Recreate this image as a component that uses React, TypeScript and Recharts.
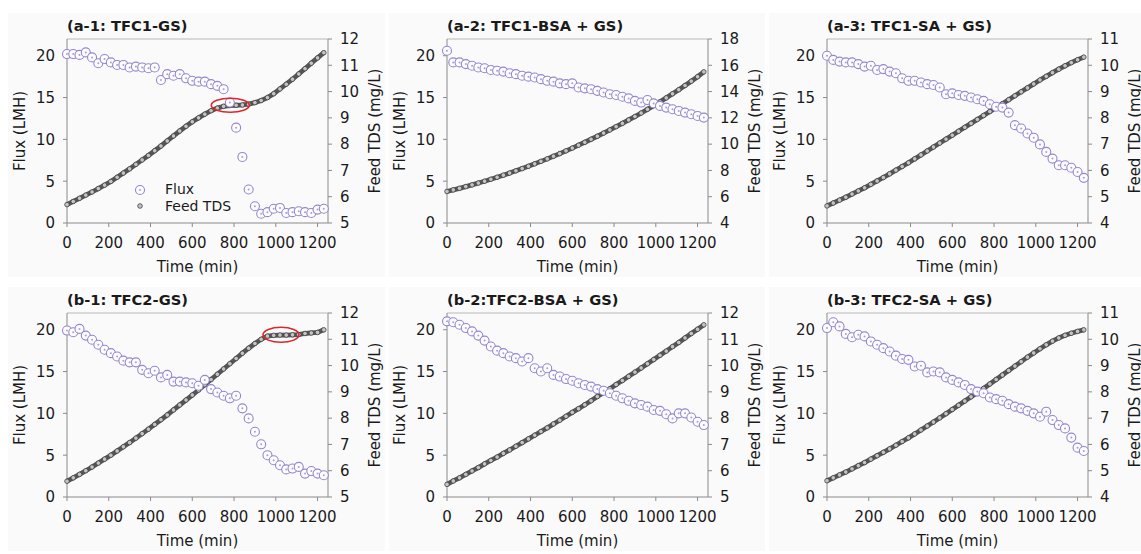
import React from 'react'
import {
  ComposedChart,
  Scatter,
  XAxis,
  YAxis,
  ReferenceLine,
  ReferenceDot,
} from 'recharts'

const times = [0, 30, 60, 90, 120, 150, 180, 210, 240, 270, 300, 330, 360, 390, 420, 450, 480, 510, 540, 570, 600, 630, 660, 690, 720, 750, 780, 810, 840, 870, 900, 930, 960, 990, 1020, 1050, 1080, 1110, 1140, 1170, 1200, 1230]

const timeTicks = [0, 200, 400, 600, 800, 1000, 1200]
const fluxTicks = [0, 5, 10, 15, 20]

// flux (LMH)
const fluxA1 = [20.2, 20.2, 20.1, 20.4, 19.8, 19.1, 19.6, 19.2, 18.9, 18.9, 18.6, 18.7, 18.6, 18.5, 18.6, 17.1, 17.8, 17.6, 17.8, 17.3, 17.0, 16.9, 16.9, 16.6, 16.4, 16.0, 14.4, 11.4, 7.9, 4.0, 2.0, 1.1, 1.3, 1.7, 1.8, 1.2, 1.3, 1.4, 1.3, 1.2, 1.6, 1.7]
const fluxA2 = [20.6, 19.2, 19.2, 19.0, 18.8, 18.6, 18.5, 18.3, 18.2, 18.1, 17.9, 17.8, 17.6, 17.5, 17.4, 17.2, 17.0, 16.9, 16.7, 16.6, 16.7, 16.2, 16.1, 16.0, 15.8, 15.6, 15.4, 15.3, 15.1, 14.9, 14.6, 14.4, 14.7, 14.3, 14.0, 13.8, 13.6, 13.4, 13.2, 13.0, 12.8, 12.6]
const fluxA3 = [20.0, 19.5, 19.3, 19.2, 19.2, 19.0, 18.7, 18.8, 18.3, 18.4, 18.1, 17.9, 17.3, 17.0, 17.0, 16.8, 16.6, 16.5, 16.2, 15.4, 15.5, 15.3, 15.2, 15.0, 14.8, 14.6, 14.2, 13.9, 13.8, 13.2, 11.7, 11.3, 10.7, 10.2, 9.4, 8.5, 7.7, 6.9, 6.9, 6.6, 6.1, 5.4]
const fluxB1 = [19.9, 19.7, 20.1, 19.3, 18.8, 18.2, 17.6, 17.2, 16.8, 16.3, 16.1, 16.1, 15.2, 14.8, 15.1, 14.3, 14.6, 13.8, 13.8, 13.7, 13.6, 13.3, 14.0, 12.9, 12.5, 12.1, 11.8, 12.1, 10.6, 9.4, 7.8, 6.3, 5.0, 4.4, 3.8, 3.3, 3.4, 3.6, 2.8, 3.1, 2.8, 2.6]
const fluxB2 = [21.0, 20.9, 20.6, 20.2, 19.8, 19.3, 18.7, 18.0, 17.5, 17.2, 16.8, 16.6, 16.2, 16.6, 15.4, 15.0, 15.4, 14.6, 14.4, 14.1, 13.9, 13.6, 13.4, 13.2, 12.9, 12.7, 12.4, 12.1, 11.8, 11.5, 11.2, 11.0, 10.8, 10.4, 10.3, 9.9, 9.4, 10.0, 10.0, 9.5, 9.0, 8.6]
const fluxB3 = [20.2, 20.9, 20.4, 19.5, 19.1, 19.4, 19.2, 18.6, 18.2, 17.8, 17.4, 16.9, 16.5, 16.4, 15.6, 15.7, 14.9, 15.0, 14.9, 14.3, 14.0, 13.7, 13.4, 12.9, 12.6, 12.4, 11.9, 11.7, 11.5, 11.1, 10.8, 10.6, 10.3, 10.0, 9.6, 10.2, 9.2, 8.6, 8.2, 7.1, 5.9, 5.5]

// feed TDS (mg/L)
const tdsA1 = [5.70, 5.82, 5.94, 6.06, 6.18, 6.31, 6.44, 6.58, 6.74, 6.90, 7.06, 7.23, 7.40, 7.57, 7.75, 7.93, 8.12, 8.31, 8.50, 8.68, 8.85, 9.00, 9.14, 9.27, 9.37, 9.44, 9.47, 9.48, 9.49, 9.52, 9.58, 9.66, 9.77, 9.92, 10.10, 10.28, 10.47, 10.67, 10.87, 11.08, 11.28, 11.48]
const tdsA2 = [6.40, 6.52, 6.64, 6.77, 6.90, 7.04, 7.18, 7.33, 7.48, 7.64, 7.80, 7.97, 8.14, 8.32, 8.50, 8.69, 8.88, 9.08, 9.28, 9.49, 9.70, 9.92, 10.14, 10.37, 10.60, 10.84, 11.08, 11.33, 11.58, 11.84, 12.10, 12.37, 12.65, 12.93, 13.22, 13.52, 13.83, 14.14, 14.46, 14.79, 15.13, 15.50]
const tdsA3 = [4.65, 4.76, 4.87, 4.98, 5.10, 5.22, 5.34, 5.47, 5.60, 5.73, 5.87, 6.01, 6.15, 6.29, 6.44, 6.59, 6.74, 6.89, 7.04, 7.19, 7.34, 7.49, 7.64, 7.79, 7.94, 8.09, 8.24, 8.39, 8.54, 8.69, 8.84, 8.99, 9.14, 9.29, 9.44, 9.58, 9.72, 9.85, 9.98, 10.10, 10.21, 10.31]
const tdsB1 = [5.60, 5.73, 5.86, 6.00, 6.14, 6.29, 6.44, 6.59, 6.75, 6.91, 7.07, 7.24, 7.41, 7.58, 7.76, 7.94, 8.12, 8.31, 8.50, 8.69, 8.88, 9.07, 9.27, 9.47, 9.67, 9.87, 10.07, 10.27, 10.47, 10.66, 10.84, 11.00, 11.12, 11.15, 11.16, 11.16, 11.17, 11.18, 11.22, 11.24, 11.26, 11.36]
const tdsB2 = [5.48, 5.61, 5.73, 5.86, 5.99, 6.12, 6.26, 6.39, 6.52, 6.66, 6.79, 6.93, 7.07, 7.21, 7.35, 7.49, 7.63, 7.78, 7.92, 8.07, 8.22, 8.36, 8.51, 8.66, 8.82, 8.97, 9.12, 9.28, 9.43, 9.59, 9.75, 9.91, 10.07, 10.23, 10.39, 10.55, 10.72, 10.88, 11.05, 11.22, 11.38, 11.55]
const tdsB3 = [4.62, 4.73, 4.84, 4.95, 5.07, 5.19, 5.31, 5.44, 5.57, 5.70, 5.83, 5.97, 6.11, 6.25, 6.40, 6.55, 6.70, 6.85, 7.01, 7.17, 7.33, 7.49, 7.65, 7.81, 7.97, 8.13, 8.30, 8.47, 8.64, 8.81, 8.98, 9.15, 9.32, 9.48, 9.64, 9.79, 9.93, 10.05, 10.15, 10.23, 10.30, 10.36]

const tdsTicks5to12 = [5, 6, 7, 8, 9, 10, 11, 12]
const tdsTicks4to18 = [4, 6, 8, 10, 12, 14, 16, 18]
const tdsTicks4to11 = [4, 5, 6, 7, 8, 9, 10, 11]

const FONT = '"DejaVu Sans", Arial, sans-serif'
const TEXT = '#1a1a1a'
const AXIS = '#8a8a8a'
const PURPLE = '#9487cf'

type Mark = { t: number; tds: number; rx: number; ry: number }

type PanelDef = {
  title: string
  flux: number[]
  tds: number[]
  tdsTicks: number[]
  mark?: Mark
  legend?: boolean
}

const panels: PanelDef[] = [
  { title: '(a-1: TFC1-GS)', flux: fluxA1, tds: tdsA1, tdsTicks: tdsTicks5to12, mark: { t: 782, tds: 9.48, rx: 19, ry: 7 }, legend: true },
  { title: '(a-2: TFC1-BSA + GS)', flux: fluxA2, tds: tdsA2, tdsTicks: tdsTicks4to18 },
  { title: '(a-3: TFC1-SA + GS)', flux: fluxA3, tds: tdsA3, tdsTicks: tdsTicks4to11 },
  { title: '(b-1: TFC2-GS)', flux: fluxB1, tds: tdsB1, tdsTicks: tdsTicks5to12, mark: { t: 1025, tds: 11.17, rx: 18, ry: 7.5 } },
  { title: '(b-2:TFC2-BSA + GS)', flux: fluxB2, tds: tdsB2, tdsTicks: tdsTicks5to12 },
  { title: '(b-3: TFC2-SA + GS)', flux: fluxB3, tds: tdsB3, tdsTicks: tdsTicks4to11 },
]

const FluxDot = (props: any) => {
  const { cx, cy } = props
  if (cx == null || cy == null) return null
  return (
    <g>
      <circle cx={cx} cy={cy} r={4.5} fill="#fdfcff" stroke={PURPLE} strokeWidth={1.1} />
      <circle cx={cx} cy={cy} r={1} fill="#a89fd8" />
    </g>
  )
}

const TdsDot = (props: any) => {
  const { cx, cy } = props
  if (cx == null || cy == null) return null
  return <circle cx={cx} cy={cy} r={2.3} fill="#c4c4c4" stroke="#3f3f3f" strokeWidth={0.8} />
}

const tickStyle = { fontSize: 15, fill: TEXT, fontFamily: FONT }

function Panel({ def, left, top }: { def: PanelDef; left: number; top: number }) {
  const fluxData = times.map((t, i) => ({ t, v: def.flux[i] }))
  const tdsData = times.map((t, i) => ({ t, v: def.tds[i] }))
  const tMin = def.tdsTicks[0]
  const tMax = def.tdsTicks[def.tdsTicks.length - 1]

  return (
    <div style={{ position: 'absolute', left, top, width: 385, height: 280 }}>
      <div
        style={{
          position: 'absolute',
          left: 67,
          top: 17,
          fontFamily: FONT,
          fontWeight: 'bold',
          fontSize: 14.7,
          lineHeight: '17px',
          color: TEXT,
          whiteSpace: 'nowrap',
        }}
      >
        {def.title}
      </div>
      <ComposedChart
        width={385}
        height={280}
        margin={{ top: 39, right: 0, left: 0, bottom: 2 }}
        style={{ fontFamily: FONT }}
      >
        <XAxis
          type="number"
          dataKey="t"
          domain={[0, 1250]}
          ticks={timeTicks}
          height={55}
          tickSize={4}
          tickMargin={10}
          stroke={AXIS}
          tick={tickStyle}
          label={{ value: 'Time (min)', position: 'insideBottom', offset: 6, style: { fontSize: 15, fill: TEXT } }}
        />
        <YAxis
          yAxisId="left"
          type="number"
          dataKey="v"
          domain={[0, 22]}
          ticks={fluxTicks}
          width={67}
          tickSize={4}
          tickMargin={8}
          stroke={AXIS}
          tick={tickStyle}
          label={{ value: 'Flux (LMH)', angle: -90, position: 'insideLeft', offset: 20, style: { textAnchor: 'middle', fontSize: 15, fill: TEXT } }}
        />
        <YAxis
          yAxisId="right"
          orientation="right"
          type="number"
          dataKey="v"
          domain={[tMin, tMax]}
          ticks={def.tdsTicks}
          width={57}
          tickSize={4}
          tickMargin={8}
          stroke={AXIS}
          tick={tickStyle}
          label={{ value: 'Feed TDS (mg/L)', angle: -90, position: 'insideLeft', offset: 47, style: { textAnchor: 'middle', fontSize: 15, fill: TEXT } }}
        />
        <ReferenceLine yAxisId="left" y={22} stroke="#b8b8b8" strokeWidth={1} />
        <Scatter
          yAxisId="right"
          data={tdsData}
          dataKey="v"
          line={{ stroke: '#555555', strokeWidth: 4.8 }}
          lineType="joint"
          shape={TdsDot}
          isAnimationActive={false}
        />
        <Scatter
          yAxisId="left"
          data={fluxData}
          dataKey="v"
          shape={FluxDot}
          isAnimationActive={false}
        />
        {def.mark && (
          <ReferenceDot
            yAxisId="right"
            x={def.mark.t}
            y={def.mark.tds}
            shape={(p: any) => (
              <ellipse cx={p.cx} cy={p.cy} rx={def.mark!.rx} ry={def.mark!.ry} fill="none" stroke="#e0252b" strokeWidth={1.6} />
            )}
          />
        )}
      </ComposedChart>
      {def.legend && (
        <div style={{ position: 'absolute', left: 132, top: 181, fontFamily: FONT, fontSize: 14, color: TEXT, lineHeight: '17px' }}>
          <div style={{ display: 'flex', alignItems: 'center' }}>
            <svg width={18} height={17} style={{ marginRight: 15 }}>
              <circle cx={8} cy={9} r={4.5} fill="#fdfcff" stroke={PURPLE} strokeWidth={1.1} />
              <circle cx={8} cy={9} r={1} fill="#a89fd8" />
            </svg>
            <span>Flux</span>
          </div>
          <div style={{ display: 'flex', alignItems: 'center' }}>
            <svg width={18} height={17} style={{ marginRight: 15 }}>
              <circle cx={8} cy={8} r={2.3} fill="#c4c4c4" stroke="#3f3f3f" strokeWidth={0.8} />
            </svg>
            <span>Feed TDS</span>
          </div>
        </div>
      )}
    </div>
  )
}

const panelBoxes = [
  { x: 8, w: 377 },
  { x: 389, w: 376 },
  { x: 769, w: 372 },
]
const rowBoxes = [
  { y: 13, h: 264 },
  { y: 287, h: 264 },
]

export default function App() {
  return (
    <div style={{ position: 'absolute', left: 0, top: 0, width: 1141, height: 554, overflow: 'hidden', background: '#ffffff' }}>
      {rowBoxes.map((r, ri) =>
        panelBoxes.map((c, ci) => (
          <div
            key={`bg-${ri}-${ci}`}
            style={{ position: 'absolute', left: c.x, top: r.y, width: c.w, height: r.h, background: '#fbfafa' }}
          />
        ))
      )}
      {panels.map((def, i) => (
        <Panel key={def.title} def={def} left={(i % 3) * 380} top={Math.floor(i / 3) * 274} />
      ))}
    </div>
  )
}
